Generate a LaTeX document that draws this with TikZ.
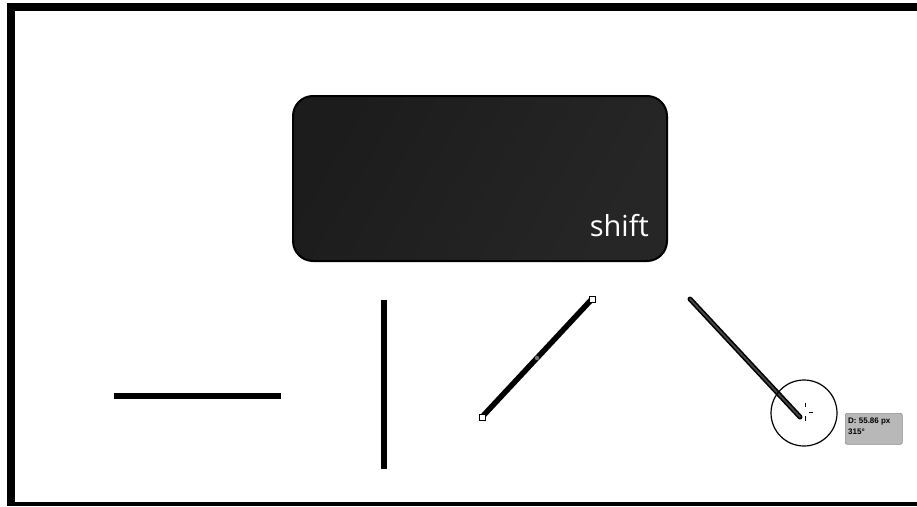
\documentclass[tikz,border=0pt]{standalone}
\usepackage{fontspec}
\usetikzlibrary{calc}
\setmainfont{Open Sans}
\newfontfamily\tipfont{Liberation Sans}
\begin{document}
\begin{tikzpicture}[x=1pt,y=-1pt,
  framebar/.style={fill=black,draw=none},
  stroke/.style={line width=6pt,black},
  handle/.style={draw=black,fill=white,line width=0.8pt,minimum size=6pt,inner sep=0pt,rectangle},
  keybox/.style={rounded corners=20pt,draw=black,line width=2pt,left color=black!89,right color=black!85,shading angle=60},
  tip/.style={fill=black!28,draw=black!45,rounded corners=2pt,line width=0.6pt}]
\useasboundingbox (0,0) rectangle (917,506);
% frame
\fill[framebar] (7,3) rectangle (917,11);
\fill[framebar] (7,3) rectangle (15,506);
\fill[framebar] (7,502) rectangle (917,506);
% key
\path[keybox] (293,96) rectangle (667,261);
\node[anchor=base east,text=white,font=\fontsize{29}{32}\selectfont,inner sep=0pt] (shift) at (649,236) {shift};
% horizontal and vertical strokes
\coordinate (h1) at (114,396); \coordinate (h2) at (281,396);
\draw[stroke] (h1) -- (h2);
\coordinate (v1) at (384,300); \coordinate (v2) at (384,469);
\draw[stroke] (v1) -- (v2);
% diagonal with handles
\coordinate (d1) at (482,417); \coordinate (d2) at (592,299);
\draw[stroke,line width=5.5pt] (d1) -- (d2);
\fill[black!55] ($ (d1)!0.5!(d2) $) circle (2.2pt);
\node[handle] (hd1) at (d1) {};
\node[handle] (hd2) at (d2) {};
% second diagonal being drawn
\coordinate (e1) at (690,299); \coordinate (e2) at (800,417);
\draw[line width=5pt,black,line cap=round] (e1) -- (e2);
\draw[line width=1.8pt,black!72,line cap=round] (e1) -- (e2);
\node[circle,draw=black,line width=1.2pt,minimum size=66pt,inner sep=0pt] (ring) at (804,413) {};
\draw[black,line width=1pt] (805,403) -- (805,407) (805,416) -- (805,421) (809,412) -- (813,412);
% tooltip
\node[tip,anchor=north west,minimum width=57pt,minimum height=31pt,inner sep=0pt] (tipbox) at (845,413) {};
\node[anchor=north west,font=\tipfont\bfseries\fontsize{8}{10.5}\selectfont,align=left,inner sep=0pt] (tiptext) at (848,418) {D: 55.86 px\\315°};
\end{tikzpicture}
\end{document}
